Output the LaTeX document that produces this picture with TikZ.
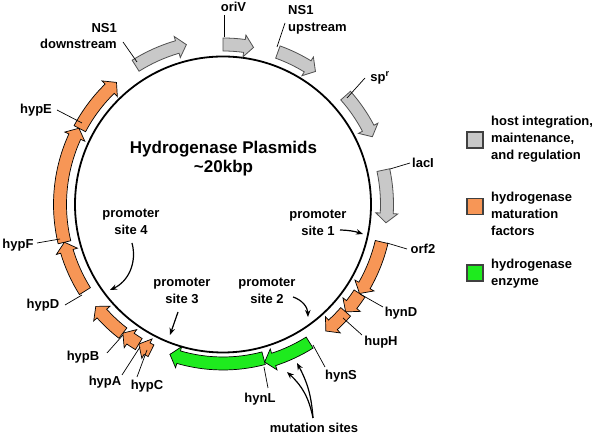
\documentclass[tikz,border=0pt]{standalone}
\usepackage{fontspec}
\setmainfont{Liberation Sans}
\usetikzlibrary{arrows.meta}
\definecolor{genegray}{RGB}{200,200,200}
\definecolor{grayedge}{RGB}{80,80,80}
\definecolor{geneorange}{RGB}{247,150,86}
\definecolor{genegreen}{RGB}{30,235,30}
\newcommand\genearrow[4]{% style, start angle, end angle, mid radius
  \draw[#1] ({#2}:{#4pt-6.5pt}) arc[start angle={#2}, end angle={#3+3.3}, radius={#4pt-6.5pt}]
    -- ({#3+3.3}:{#4pt-11pt}) -- ({#3}:{#4pt}) -- ({#3+3.3}:{#4pt+11pt})
    -- ({#3+3.3}:{#4pt+6.5pt}) arc[start angle={#3+3.3}, end angle={#2}, radius={#4pt+6.5pt}] -- cycle;}
\begin{document}
\begin{tikzpicture}[x=1pt,y=1pt,
  lbl/.style={font=\bfseries\fontsize{13}{16.5}\selectfont, inner sep=0pt},
  leader/.style={line width=0.7pt},
  ptr/.style={line width=1.2pt, -{Stealth[length=7pt,width=5.5pt]}},
  hostg/.style={fill=genegray, draw=grayedge, line width=0.8pt},
  matg/.style={fill=geneorange, draw=black, line width=0.7pt},
  enzg/.style={fill=genegreen, draw=black, line width=0.7pt},
  legbox/.style={draw=black!75, line width=1.1pt, minimum size=16pt, inner sep=0pt}]
\useasboundingbox (0,0) rectangle (600,435);
\node[circle, draw, line width=1.8pt, minimum size=296pt, inner sep=0pt] (plasmid) at (223,230.5) {};
\begin{scope}[shift={(223,230.5)}]
  \genearrow{hostg}{122.2}{102.9}{164}
  \genearrow{hostg}{90}{79}{160}
  \genearrow{hostg}{70.2}{55.2}{162}
  \genearrow{hostg}{41.6}{24.4}{164}
  \genearrow{hostg}{12.1}{-6.4}{164}
  \genearrow{matg}{-13.3}{-33.1}{163}
  \genearrow{matg}{-33.1}{-41.2}{163}
  \genearrow{matg}{-41.2}{-50.9}{163}
  \genearrow{enzg}{-57.9}{-75.2}{163}
  \genearrow{enzg}{-75.2}{-109.5}{159}
  \genearrow{matg}{243.8}{238.9}{163}
  \genearrow{matg}{238.9}{232.1}{163}
  \genearrow{matg}{232.1}{218.7}{163}
  \genearrow{matg}{212.1}{193.4}{163}
  \genearrow{matg}{193.4}{152.1}{163}
  \genearrow{matg}{152.1}{131.1}{162}
\end{scope}
% title
\node[font=\bfseries\fontsize{17}{19}\selectfont, align=center, inner sep=0pt] (title) at (223.5,276.5) {Hydrogenase Plasmids\\\textasciitilde20kbp};
% gene labels
\node[lbl, align=right, anchor=east] (ns1d) at (117,399) {NS1\\downstream};
\coordinate (ns1dA) at (123,393); \coordinate (ns1dB) at (137,373);
\draw[leader] (ns1dA) -- (ns1dB);
\node[lbl] (oriv) at (233.5,428) {oriV};
\coordinate (orivA) at (224,420); \coordinate (orivB) at (224,398);
\draw[leader] (orivA) -- (orivB);
\node[lbl, align=left, anchor=west] (ns1u) at (288,415) {NS1\\upstream};
\coordinate (ns1uA) at (285,412); \coordinate (ns1uB) at (277,388);
\draw[leader] (ns1uA) -- (ns1uB);
\node[lbl] (spr) at (380,357) {sp\textsuperscript{r}};
\coordinate (sprA) at (365,357); \coordinate (sprB) at (347,337);
\draw[leader] (sprA) -- (sprB);
\node[lbl] (laci) at (423,272) {lacI};
\coordinate (laciA) at (410,272); \coordinate (laciB) at (390,266);
\draw[leader] (laciA) -- (laciB);
\node[lbl] (orf) at (423,186) {orf2};
\coordinate (orfA) at (407,186); \coordinate (orfB) at (387,192);
\draw[leader] (orfA) -- (orfB);
\node[lbl] (hynd) at (401,122) {hynD};
\coordinate (hyndA) at (383,128); \coordinate (hyndB) at (360,141);
\draw[leader] (hyndA) -- (hyndB);
\node[lbl] (huph) at (381,93) {hupH};
\coordinate (huphA) at (362,100); \coordinate (huphB) at (343,117);
\draw[leader] (huphA) -- (huphB);
\node[lbl] (hyns) at (341,59) {hynS};
\coordinate (hynsA) at (325,68); \coordinate (hynsB) at (313,90);
\draw[leader] (hynsA) -- (hynsB);
\node[lbl] (hynl) at (260,36) {hynL};
\coordinate (hynlA) at (268,47); \coordinate (hynlB) at (264,68);
\draw[leader] (hynlA) -- (hynlB);
\node[lbl] (hypb) at (83,78) {hypB};
\coordinate (hypbA) at (107,82); \coordinate (hypbB) at (123,100);
\draw[leader] (hypbA) -- (hypbB);
\node[lbl] (hypa) at (105,53) {hypA};
\coordinate (hypaA) at (122,60); \coordinate (hypaB) at (140,88);
\draw[leader] (hypaA) -- (hypaB);
\node[lbl] (hypc) at (147,49) {hypC};
\coordinate (hypcA) at (137,58); \coordinate (hypcB) at (147,85);
\draw[leader] (hypcA) -- (hypcB);
\node[lbl] (hypd) at (43,130) {hypD};
\coordinate (hypdA) at (65,130); \coordinate (hypdB) at (82,140);
\draw[leader] (hypdA) -- (hypdB);
\node[lbl] (hypf) at (18,190) {hypF};
\coordinate (hypfA) at (37,192); \coordinate (hypfB) at (60,196);
\draw[leader] (hypfA) -- (hypfB);
\node[lbl] (hype) at (36,325) {hypE};
\coordinate (hypeA) at (57,325); \coordinate (hypeB) at (82,312);
\draw[leader] (hypeA) -- (hypeB);
% mutation sites
\node[lbl] (mut) at (314,7) {mutation sites};
\coordinate (mutS) at (313,17); \coordinate (mutA) at (287,63); \coordinate (mutB) at (297,72);
\draw[ptr] (mutS) to[bend right=18] (mutA);
\draw[ptr] (mutS) to[bend right=12] (mutB);
% promoters
\node[lbl, align=center] (p1) at (318,212) {promoter\\site 1};
\coordinate (p1A) at (340,205); \coordinate (p1B) at (363,201);
\draw[ptr] (p1A) to[bend left=8] (p1B);
\node[lbl, align=center] (p2) at (267,144) {promoter\\site 2};
\coordinate (p2A) at (293,138); \coordinate (p2B) at (308,118);
\draw[ptr] (p2A) to[bend left=35] (p2B);
\node[lbl, align=center] (p3) at (182,144) {promoter\\site 3};
\coordinate (p3A) at (178,123); \coordinate (p3B) at (170,100);
\draw[ptr] (p3A) -- (p3B);
\node[lbl, align=center] (p4) at (131,213) {promoter\\site 4};
\coordinate (p4A) at (132,192); \coordinate (p4B) at (110,145);
\draw[ptr] (p4A) to[bend left=40] (p4B);
% legend
\node[legbox, fill=genegray] (lg1) at (475,295) {};
\node[legbox, fill=geneorange] (lg2) at (475,228.5) {};
\node[legbox, fill=genegreen] (lg3) at (475,162) {};
\node[lbl, align=left, anchor=west, font=\bfseries\fontsize{13}{17}\selectfont] (lt1) at (491,296) {host integration,\\maintenance,\\and regulation};
\node[lbl, align=left, anchor=west, font=\bfseries\fontsize{13}{17}\selectfont] (lt2) at (491,221) {hydrogenase\\maturation\\factors};
\node[lbl, align=left, anchor=west, font=\bfseries\fontsize{13}{17}\selectfont] (lt3) at (491,161.5) {hydrogenase\\enzyme};
\end{tikzpicture}
\end{document}
